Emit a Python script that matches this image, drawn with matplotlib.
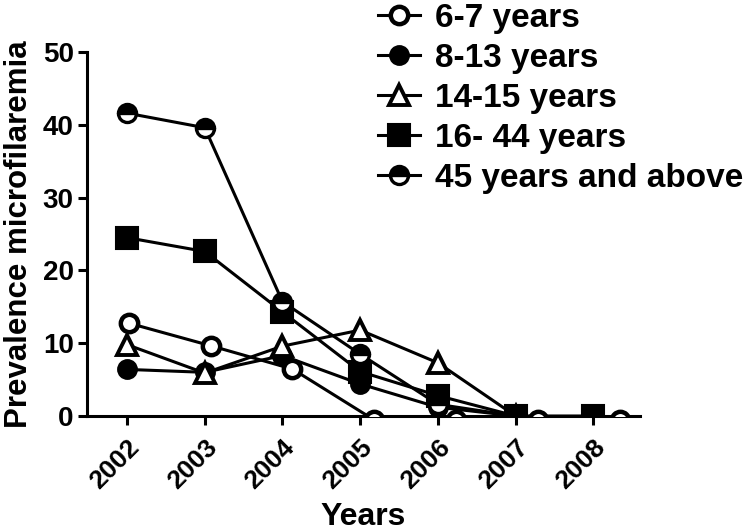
import numpy as np
import matplotlib.pyplot as plt

plt.rcParams['font.family'] = ['Liberation Sans', 'DejaVu Sans']
plt.rcParams['font.weight'] = 'bold'

years = ['2002', '2003', '2004', '2005', '2006', '2007', '2008']
age_6_7 = [13.3, 10.2, 7.0, 0, 0, 0, 0]
age_8_13 = [6.4, 6.0, 8.3, 4.4, 1.2, 0, np.nan]
age_14_15 = [9.8, 5.9, 9.6, 11.8, 7.3, 0, np.nan]
age_16_44 = [24.5, 22.6, 14.3, 6.1, 2.8, 0, 0]
age_45_up = [41.6, 39.6, 15.7, 8.5, 1.6, 0, np.nan]

fig = plt.figure(figsize=(7.56, 5.32), dpi=100)
rect = [87/756, 1 - 416/532, 553/756, 364/532]
ax = fig.add_axes(rect)
# the 6-7 years series sits on a slightly stretched / lowered scale in the original
ax2 = fig.add_axes(rect, zorder=3)
ax2.patch.set_visible(False)
ax2.axis('off')

x = np.arange(len(years))
lw = 2.2
common = dict(color='black', linewidth=lw, markeredgecolor='black')

h2, = ax.plot(x, age_8_13, marker='o', markersize=13.5, markerfacecolor='black',
              markeredgewidth=1.5, label='8-13 years', **common)
h3, = ax.plot(x, age_14_15, marker='^', markersize=15, markerfacecolor='white',
              markeredgewidth=2.8, label='14-15 years', **common)
h4, = ax.plot(x, age_16_44, marker='s', markersize=16, markerfacecolor='black',
              markeredgewidth=1.5, label='16- 44 years', **common)
h5, = ax.plot(x, age_45_up, marker='o', markersize=13, fillstyle='top',
              markerfacecolor='black', markerfacecoloralt='white',
              markeredgewidth=2.4, label='45 years and above', **common)
h1, = ax2.plot(x, age_6_7, marker='o', markersize=12.5, markerfacecolor='white',
               markeredgewidth=3.2, label='6-7 years', **common)

ax.set_xlim(-0.515, 6.6)
ax.set_ylim(0, 50)
ax2.set_xlim(-0.513, 6.25)
ax2.set_ylim(0.55, 50.55)

ax.set_xticks(x)
ax.set_xticklabels(years, rotation=45, ha='right', rotation_mode='anchor',
                   fontsize=19, fontweight='bold')
ax.set_yticks([0, 10, 20, 30, 40, 50])
ax.set_yticklabels(['0', '10', '20', '30', '40', '50'], fontsize=20, fontweight='bold')
ax.tick_params(axis='both', width=lw, length=6.5, direction='out')
ax.tick_params(axis='y', pad=3)
ax.tick_params(axis='x', pad=7)

for s in ['top', 'right']:
    ax.spines[s].set_visible(False)
for s in ['left', 'bottom']:
    ax.spines[s].set_linewidth(lw)

ax.set_xlabel('Years', fontsize=23, fontweight='bold', labelpad=6)
ax.set_ylabel('Prevalence microfilaremia', fontsize=22.5, fontweight='bold', labelpad=6)

fig.legend([h1, h2, h3, h4, h5],
           ['6-7 years', '8-13 years', '14-15 years', '16- 44 years', '45 years and above'],
           loc='upper left', bbox_to_anchor=(378/756, 0.995), frameon=False,
           prop={'size': 24, 'weight': 'bold'}, handlelength=1.25,
           handletextpad=0.45, labelspacing=0.27, borderpad=0, borderaxespad=0)

fig.savefig('out.png', dpi=100)
